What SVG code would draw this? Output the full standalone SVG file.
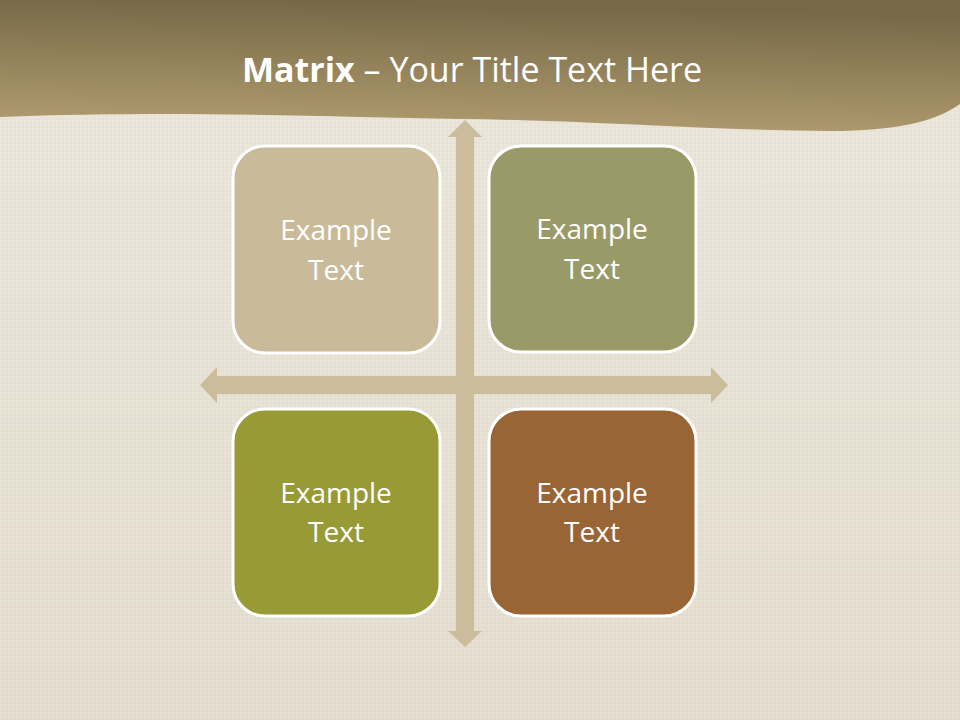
<svg xmlns="http://www.w3.org/2000/svg" width="960" height="720" viewBox="0 0 960 720">
<defs>
<linearGradient id="bg" x1="0" y1="0" x2="0" y2="1">
<stop offset="0" stop-color="#ebe6db"/>
<stop offset="1" stop-color="#e3ddcf"/>
</linearGradient>
<linearGradient id="band" x1="0.1" y1="1" x2="0.25" y2="0">
<stop offset="0" stop-color="#b39e71"/>
<stop offset="1" stop-color="#766947"/>
</linearGradient>
<pattern id="tex" width="4" height="4" patternUnits="userSpaceOnUse">
<rect x="0" y="0" width="2" height="2" fill="#ffffff" opacity="0.1"/>
<rect x="2" y="2" width="2" height="2" fill="#b0a488" opacity="0.06"/>
</pattern>
</defs>
<style>
.box{stroke:#ffffff;stroke-width:3}
.lbl{font-family:"Open Sans","Liberation Sans",sans-serif;font-size:28px;fill:#ffffff;text-anchor:middle}
.arrow{fill:#cbbd9c}
.title{font-family:"Open Sans","Liberation Sans",sans-serif;font-size:34px;fill:#ffffff;text-anchor:middle}
</style>
<rect width="960" height="720" fill="url(#bg)"/>
<rect width="960" height="720" fill="url(#tex)"/>
<path d="M0,0 H960 V104 C935,122 895,131 830,131 C700,130 580,120 460,119 C320,117 180,110 0,117 Z" fill="url(#band)"/>
<text class="title" x="472" y="82"><tspan font-weight="bold">Matrix</tspan> – Your Title Text Here</text>
<g id="connectors">
<polygon class="arrow" points="465,120 482,137 474,137 474,376 711,376 711,367 728,385 711,403 711,394 474,394 474,631 482,631 465,647 448,631 456,631 456,394 217,394 217,403 200,385 217,367 217,376 456,376 456,137 448,137"/>
</g>
<g id="node1">
<rect class="box" x="233" y="146" width="207" height="207" rx="32" fill="#c9bb9a"/>
<text class="lbl" x="336" y="240">Example</text>
<text class="lbl" x="336" y="280">Text</text>
</g>
<g id="node2">
<rect class="box" x="489" y="146" width="207" height="206" rx="32" fill="#9a9a68"/>
<text class="lbl" x="592" y="239">Example</text>
<text class="lbl" x="592" y="279">Text</text>
</g>
<g id="node3">
<rect class="box" x="233" y="409" width="207" height="207" rx="32" fill="#989a36"/>
<text class="lbl" x="336" y="503">Example</text>
<text class="lbl" x="336" y="542">Text</text>
</g>
<g id="node4">
<rect class="box" x="489" y="409" width="207" height="207" rx="32" fill="#9a6534"/>
<text class="lbl" x="592" y="503">Example</text>
<text class="lbl" x="592" y="542">Text</text>
</g>
</svg>
